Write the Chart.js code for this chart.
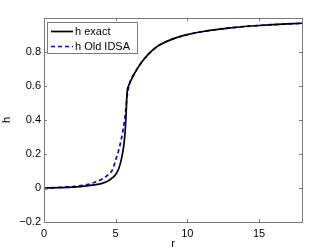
<!DOCTYPE html>
<html>
<head>
<meta charset="utf-8">
<script src="https://cdn.jsdelivr.net/npm/chart.js@4/dist/chart.umd.min.js"></script>
<style>
  html, body { margin: 0; padding: 0; background: #fff; }
  #wrap { width: 334px; height: 251px; }
</style>
</head>
<body>
<div id="wrap"><canvas id="hChart"></canvas></div>
<script>
// valores
const rValues = [0, 1, 2, 3, 3.5, 4, 4.5, 4.8, 5, 5.2, 5.4, 5.55, 5.65, 5.72, 5.78, 5.82, 5.9, 6.05, 6.3, 6.6, 7, 7.5, 8, 9, 10, 11, 12, 13, 14, 15, 16, 17, 18];
const hExact = [0, 0.002, 0.005, 0.012, 0.018, 0.026, 0.043, 0.062, 0.080, 0.110, 0.170, 0.240, 0.320, 0.420, 0.540, 0.580, 0.600, 0.630, 0.672, 0.714, 0.760, 0.805, 0.838, 0.877, 0.902, 0.919, 0.932, 0.942, 0.950, 0.956, 0.961, 0.965, 0.969];
const hOldIDSA = [-0.005, 0.003, 0.008, 0.020, 0.032, 0.050, 0.080, 0.112, 0.165, 0.220, 0.290, 0.360, 0.420, 0.470, 0.525, 0.550, 0.590, 0.635, 0.672, 0.714, 0.760, 0.805, 0.838, 0.877, 0.902, 0.919, 0.932, 0.942, 0.950, 0.956, 0.961, 0.965, 0.969];
const xTicks = [0, 5, 10, 15];
const yTicks = [-0.2, 0, 0.2, 0.4, 0.6, 0.8];
const seriesLabels = ['h exact', 'h Old IDSA'];

const FONT = 'Liberation Sans, Arial, Helvetica, sans-serif';
const AXIS_COLOR = '#7a7a7a';

function toPoints(ys) {
    return rValues.map((r, i) => ({ x: r, y: ys[i] }));
}

function fmtY(v) {
    if (Math.abs(v) < 1e-9) return '0';
    const s = Math.abs(v).toFixed(1);
    return v < 0 ? '\u2212' + s : s;
}

// Caja estilo MATLAB con marcas hacia dentro
const boxPlugin = {
    id: 'boxPlugin',
    afterDatasetsDraw(chart) {
        const { ctx, chartArea: a, scales } = chart;
        ctx.save();
        ctx.strokeStyle = AXIS_COLOR;
        ctx.lineWidth = 1;
        ctx.strokeRect(Math.round(a.left) + 0.5, Math.round(a.top) + 0.5,
            Math.round(a.right - a.left), Math.round(a.bottom - a.top));
        ctx.beginPath();
        xTicks.forEach(v => {
            const x = Math.round(scales.x.getPixelForValue(v)) + 0.5;
            ctx.moveTo(x, a.bottom); ctx.lineTo(x, a.bottom - 3);
            ctx.moveTo(x, a.top); ctx.lineTo(x, a.top + 3);
        });
        yTicks.forEach(v => {
            const y = Math.round(scales.y.getPixelForValue(v)) + 0.5;
            ctx.moveTo(a.left, y); ctx.lineTo(a.left + 3, y);
            ctx.moveTo(a.right, y); ctx.lineTo(a.right - 3, y);
        });
        ctx.stroke();
        ctx.restore();
    },
    afterDraw(chart) {
        // leyenda dentro del área, con marco
        const { ctx } = chart;
        const bx = 47, by = 22, bw = 90, bh = 31;
        ctx.save();
        ctx.fillStyle = '#fff';
        ctx.fillRect(bx, by, bw, bh);
        ctx.strokeStyle = AXIS_COLOR;
        ctx.lineWidth = 1;
        ctx.strokeRect(bx + 0.5, by + 0.5, bw, bh);
        ctx.font = '11px ' + FONT;
        ctx.textBaseline = 'middle';
        chart.data.datasets.forEach((ds, i) => {
            const y = by + 9.5 + i * 15;
            ctx.beginPath();
            ctx.strokeStyle = ds.borderColor;
            ctx.lineWidth = ds.borderWidth;
            ctx.setLineDash(ds.borderDash || []);
            ctx.moveTo(bx + 4, y);
            ctx.lineTo(bx + 26, y);
            ctx.stroke();
            ctx.setLineDash([]);
            ctx.fillStyle = '#000';
            ctx.fillText(ds.label, bx + 28, y);
        });
        ctx.restore();
    }
};

new Chart(document.getElementById('hChart'), {
    type: 'line',
    data: {
        datasets: [
            {
                label: seriesLabels[0],
                data: toPoints(hExact),
                borderColor: '#000000',
                borderWidth: 1.7,
                pointRadius: 0,
                cubicInterpolationMode: 'monotone',
                fill: false
            },
            {
                label: seriesLabels[1],
                data: toPoints(hOldIDSA),
                borderColor: '#0000ff',
                borderWidth: 1.7,
                borderDash: [4, 3],
                pointRadius: 0,
                cubicInterpolationMode: 'monotone',
                fill: false
            }
        ]
    },
    options: {
        responsive: true,
        maintainAspectRatio: false,
        animation: false,
        layout: { padding: { top: 18, right: 32, left: 0, bottom: 0 } },
        plugins: {
            legend: { display: false },
            tooltip: { enabled: false }
        },
        scales: {
            x: {
                type: 'linear',
                min: 0,
                max: 18,
                afterBuildTicks: s => { s.ticks = xTicks.map(v => ({ value: v })); },
                afterFit: s => { s.height = 29; },
                grid: { display: false, drawTicks: false },
                border: { display: false },
                ticks: {
                    color: '#000',
                    padding: 5,
                    maxRotation: 0,
                    font: { family: FONT, size: 11 },
                    callback: v => String(v)
                },
                title: {
                    display: true,
                    text: 'r',
                    color: '#000',
                    padding: { top: 0, bottom: 0 },
                    font: { family: FONT, size: 11 }
                }
            },
            y: {
                type: 'linear',
                min: -0.2,
                max: 1.0,
                afterBuildTicks: s => { s.ticks = yTicks.map(v => ({ value: v })); },
                afterFit: s => { s.width = 44; },
                grid: { display: false, drawTicks: false },
                border: { display: false },
                ticks: {
                    color: '#000',
                    padding: 3,
                    font: { family: FONT, size: 11 },
                    callback: v => fmtY(v)
                },
                title: {
                    display: true,
                    text: 'h',
                    color: '#000',
                    padding: { top: 0, bottom: 0 },
                    font: { family: FONT, size: 11 }
                }
            }
        }
    },
    plugins: [boxPlugin]
});
</script>
</body>
</html>
